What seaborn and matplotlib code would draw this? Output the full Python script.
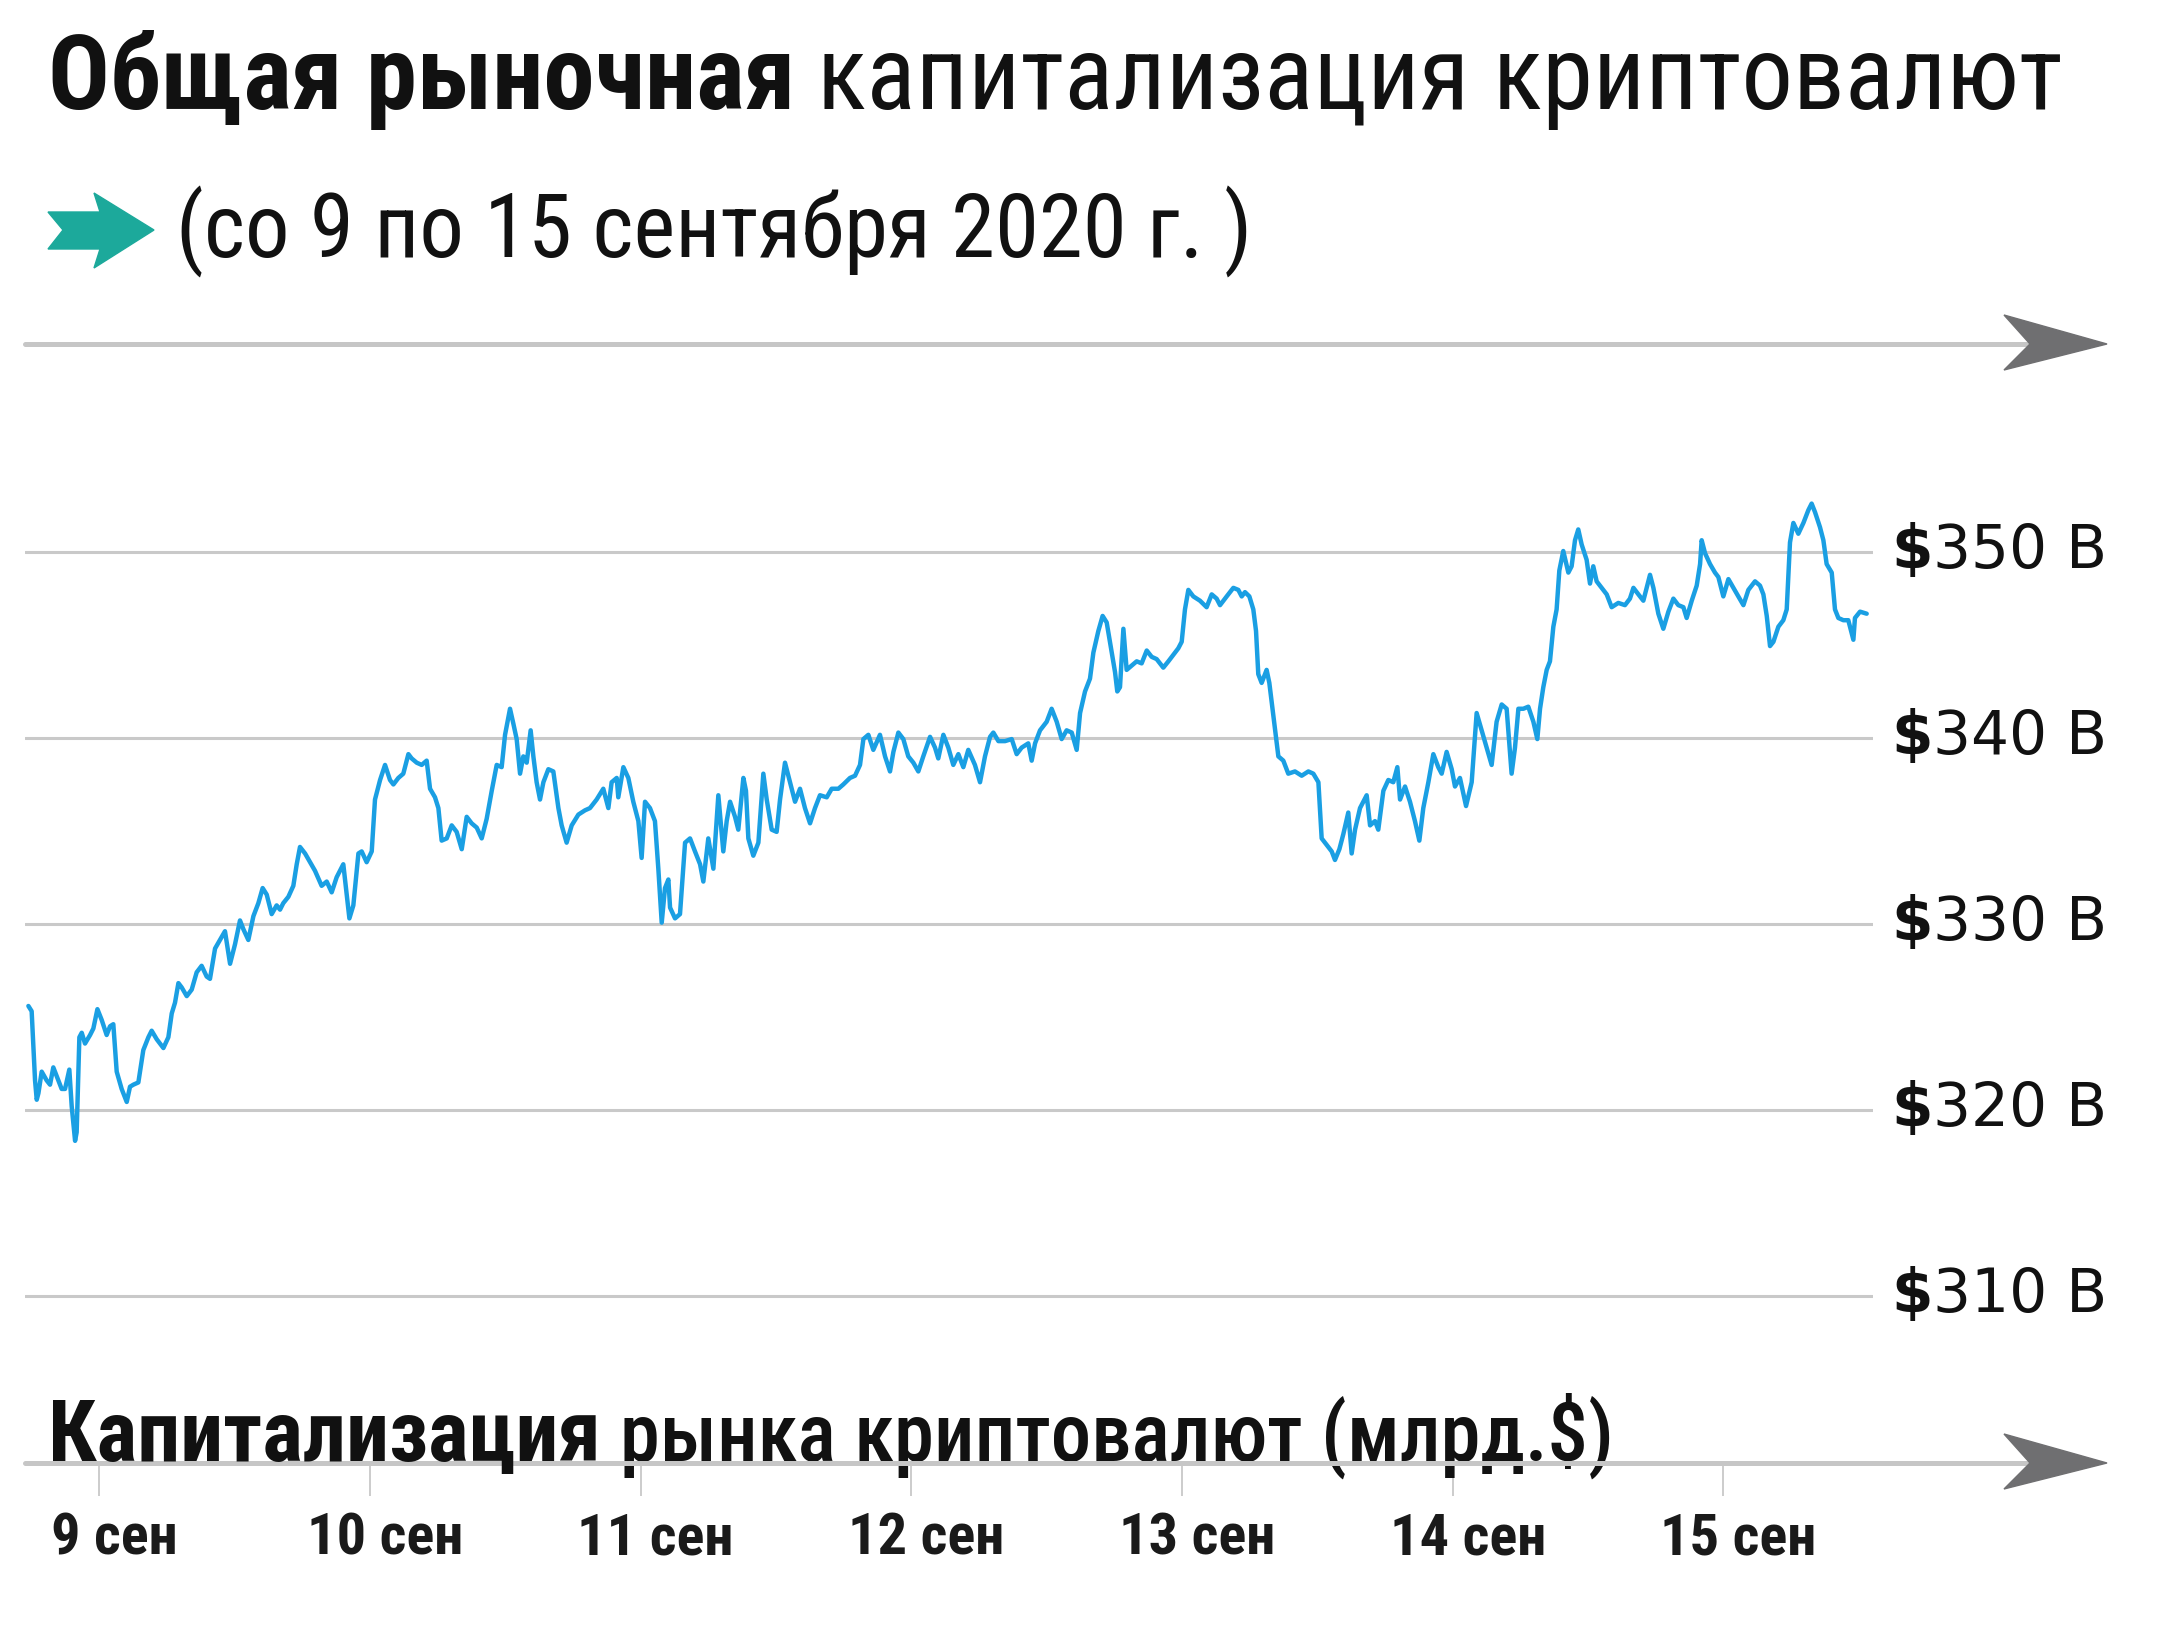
import matplotlib
matplotlib.use('Agg')
import matplotlib.pyplot as plt
import matplotlib.transforms as mtransforms
from matplotlib import font_manager
from matplotlib.lines import Line2D
from matplotlib.patches import Polygon
import pandas as pd
import seaborn as sns

# Часы от 9 сентября 2020 00:00 и капитализация рынка (млрд $)
hours = [
    -6.28, -5.99, -5.69, -5.54, -5.39, -5.10, -4.66, -4.36, -4.07, -3.77,
    -3.33, -3.03, -2.65, -2.44, -2.14, -2.00, -1.76, -1.55, -1.26, -0.81,
    -0.52, -0.16, 0.22, 0.66, 0.96, 1.25, 1.55, 1.99, 2.44, 2.73,
    3.03, 3.47, 3.91, 4.36, 4.65, 5.10, 5.69, 6.13, 6.43, 6.72,
    7.02, 7.31, 7.76, 8.20, 8.64, 9.08, 9.53, 9.82, 10.27, 10.71,
    11.15, 11.60, 12.04, 12.48, 12.78, 13.22, 13.67, 14.11, 14.49, 14.85,
    15.29, 15.73, 16.03, 16.32, 16.77, 17.21, 17.51, 17.80, 18.25, 18.69,
    19.13, 19.72, 20.17, 20.61, 21.05, 21.64,
    # 10 сен
    22.18, 22.53, 22.98, 23.27, 23.71, 24.16, 24.45, 24.90, 25.34, 25.78,
    26.08, 26.52, 26.96, 27.41, 27.70, 28.15, 28.59, 29.03, 29.33, 29.77,
    30.07, 30.36, 30.81, 31.25, 31.69, 32.14, 32.58, 33.02, 33.47, 33.91,
    34.35, 34.80, 35.24, 35.68, 35.98, 36.42, 36.72, 37.01, 37.31, 37.60,
    37.90, 38.25, 38.49, 38.78, 39.08, 39.38, 39.82, 40.26, 40.71, 41.00,
    41.44, 41.89, 42.48, 43.07, 43.51, 44.10, 44.69, 45.14, 45.43, 45.88,
    46.02, 46.47, 46.91, 47.35, 47.80, 48.09, 48.39, 48.83, 49.27, 49.57,
    49.87, 50.16, 50.46,
    # 11 сен
    50.61, 51.05, 51.49, 51.94, 52.38, 52.82, 53.27, 53.56, 54.00, 54.45,
    54.89, 55.33, 55.63, 55.93, 56.37, 56.66, 57.11, 57.34, 57.55, 57.99,
    58.44, 58.88, 59.18, 59.62, 60.06, 60.36, 60.80, 61.24, 61.69, 62.13,
    62.57, 63.02, 63.46, 63.90, 64.50, 64.94, 65.53, 65.97, 66.56, 67.01,
    67.45, 67.75, 68.19, 68.63, 69.22, 69.67, 70.11, 70.41, 70.85, 71.29,
    71.73, 72.18, 72.62, 73.06, 73.66, 74.10, 74.39, 74.84, 75.28, 75.72,
    76.17, 76.61, 77.05, 77.64, 78.09, 78.53, 78.98,
    # 12 сен
    79.27, 79.72, 80.31, 80.90, 81.34, 81.78, 82.37, 82.67, 82.97, 83.41,
    84.00, 84.44, 84.89, 85.33, 85.77, 86.22, 86.66, 86.96, 87.40, 87.84,
    88.14, 88.58, 88.96, 89.32, 89.67, 90.06, 90.26, 90.50, 90.80, 91.09,
    91.54, 91.98, 92.42, 92.87, 93.31, 93.75, 94.34, 94.79, 95.23, 95.67,
    95.97, 96.26, 96.56, 97.00, 97.59, 98.18, 98.63, 99.07, 99.37, 99.96,
    100.55, 100.99, 101.29, 101.58, 101.97, 102.32, 102.56, 102.76, 103.06, 103.50,
    103.74, 104.09, 104.54, 104.98, 105.42, 106.01, 106.61, 107.20,
    # 13 сен
    107.64, 108.09, 108.38, 108.82, 109.27, 109.56, 109.95, 110.30, 110.74, 111.04,
    111.34, 111.78, 112.37, 112.67, 113.11, 113.40, 113.85, 114.29, 114.73, 115.09,
    115.33, 115.77, 116.21, 116.65, 117.04, 117.39, 117.84, 118.28, 118.72, 119.02,
    119.46, 119.91, 120.20, 120.64, 121.18, 121.68, 122.12, 122.56, 123.01, 123.45,
    123.89, 124.34, 124.78, 125.22, 125.52, 125.82, 126.26, 126.70, 127.15, 127.50,
    127.74, 128.03, 128.33, 128.62, 128.92, 129.21, 129.45, 129.80, 130.25, 130.54,
    130.84, 131.13, 131.43, 131.87, 132.17, 132.46, 132.76, 133.20, 133.65, 134.09,
    134.68, 135.27, 135.71,
    # 14-15 сен
    136.02, 136.46, 136.90, 137.49, 137.79, 138.23, 138.67, 139.12, 139.56, 140.00,
    140.45, 140.74, 141.19, 141.63, 141.93, 142.07, 142.37, 142.81, 143.25, 143.55,
    143.99, 144.44, 144.88, 145.32, 145.77, 146.21, 146.80, 147.24, 147.54, 147.84,
    148.13, 148.43, 148.87, 149.31, 149.61, 149.90, 150.20, 150.64, 151.09, 151.53,
    151.82, 152.12, 152.56, 152.86, 153.15, 153.60, 153.89, 154.19, 154.63, 155.07,
    155.52, 155.66, 156.11, 156.70,
]
cap_bn = [
    325.59, 325.31, 321.59, 320.55, 320.90, 322.06, 321.59, 321.36, 322.29, 321.82,
    321.13, 321.13, 322.17, 320.20, 318.34, 318.80, 323.91, 324.15, 323.57, 324.03,
    324.38, 325.42, 324.84, 324.03, 324.50, 324.61, 322.06, 321.13, 320.43, 321.25,
    321.36, 321.48, 323.22, 323.91, 324.26, 323.80, 323.33, 323.91, 325.19, 325.77,
    326.82, 326.59, 326.12, 326.47, 327.40, 327.75, 327.17, 327.05, 328.68, 329.14,
    329.61, 327.86, 328.91, 330.19, 329.72, 329.14, 330.42, 331.12, 331.93, 331.58,
    330.53, 331.00, 330.77, 331.12, 331.46, 332.05, 333.21, 334.14, 333.79, 333.32,
    332.86, 332.05, 332.28, 331.70, 332.51, 333.21,
    330.30, 331.00, 333.79, 333.90, 333.32, 333.90, 336.69, 337.74, 338.55, 337.74,
    337.50, 337.85, 338.08, 339.13, 338.90, 338.67, 338.55, 338.78, 337.27, 336.81,
    336.23, 334.48, 334.60, 335.30, 334.95, 334.02, 335.76, 335.41, 335.18, 334.60,
    335.65, 337.16, 338.55, 338.43, 340.17, 341.57, 340.76, 339.94, 338.08, 339.01,
    338.67, 340.41, 339.01, 337.62, 336.69, 337.62, 338.32, 338.20, 336.23, 335.30,
    334.37, 335.30, 335.88, 336.11, 336.23, 336.69, 337.27, 336.23, 337.62, 337.85,
    336.81, 338.43, 337.85, 336.57, 335.53, 333.55, 336.57, 336.23, 335.53, 332.97,
    330.07, 331.93, 332.39,
    330.88, 330.30, 330.53, 334.37, 334.60, 333.90, 333.21, 332.28, 334.60, 332.97,
    336.92, 333.90, 335.53, 336.57, 335.76, 335.07, 337.85, 337.16, 334.60, 333.67,
    334.37, 338.08, 336.69, 335.07, 334.95, 336.69, 338.67, 337.62, 336.57, 337.27,
    336.23, 335.41, 336.23, 336.92, 336.81, 337.27, 337.27, 337.50, 337.85, 337.97,
    338.55, 339.94, 340.17, 339.36, 340.17, 339.01, 338.20, 339.25, 340.29, 339.94,
    339.01, 338.67, 338.20, 339.01, 340.06, 339.48, 338.90, 340.17, 339.48, 338.55,
    339.13, 338.43, 339.36, 338.55, 337.62, 339.01, 340.06,
    340.29, 339.83, 339.83, 339.94, 339.13, 339.48, 339.71, 338.78, 339.71, 340.41,
    340.87, 341.57, 340.87, 339.94, 340.41, 340.29, 339.36, 341.34, 342.50, 343.19,
    344.59, 345.75, 346.56, 346.21, 344.94, 343.54, 342.50, 342.73, 345.87, 343.66,
    343.89, 344.12, 344.01, 344.70, 344.36, 344.24, 343.78, 344.12, 344.47, 344.82,
    345.17, 346.91, 347.96, 347.61, 347.38, 347.03, 347.72, 347.49, 347.14, 347.61,
    348.07, 347.96, 347.61, 347.84, 347.61, 346.91, 345.75, 343.43, 342.96, 343.66,
    342.96, 341.22, 339.01, 338.78, 338.08, 338.20, 337.97, 338.20,
    338.08, 337.62, 334.60, 334.25, 333.90, 333.44, 334.02, 334.83, 335.99, 333.79,
    335.07, 336.23, 336.92, 335.30, 335.53, 335.07, 337.16, 337.74, 337.62, 338.43,
    336.69, 337.39, 336.57, 335.53, 334.48, 336.23, 337.62, 339.13, 338.43, 338.08,
    339.25, 338.32, 337.39, 337.85, 336.34, 337.62, 341.34, 340.41, 339.48, 338.55,
    340.87, 341.80, 341.57, 338.08, 339.48, 341.57, 341.57, 341.68, 340.87, 339.94,
    341.57, 342.73, 343.66, 344.12, 345.98, 346.91, 349.00, 350.05, 348.89, 349.23,
    350.63, 351.21, 350.40, 349.58, 348.30, 349.23, 348.42, 348.07, 347.72, 347.03,
    347.26, 347.14, 347.49,
    348.07, 347.72, 347.38, 348.77, 348.07, 346.68, 345.87, 346.79, 347.49, 347.14,
    347.03, 346.45, 347.38, 348.19, 349.35, 350.63, 349.93, 349.35, 348.89, 348.65,
    347.61, 348.54, 348.07, 347.61, 347.14, 347.96, 348.42, 348.19, 347.72, 346.56,
    344.94, 345.17, 345.98, 346.33, 346.91, 350.51, 351.56, 350.98, 351.56, 352.25,
    352.60, 352.14, 351.33, 350.63, 349.35, 348.89, 346.91, 346.45, 346.33, 346.33,
    345.28, 346.45, 346.79, 346.68,
]

tick_days = [9, 10, 11, 12, 13, 14, 15]
tick_labels = ['9 сен', '10 сен', '11 сен', '12 сен', '13 сен', '14 сен', '15 сен']
grid_values = [310, 320, 330, 340, 350]
grid_labels = ['310 B', '320 B', '330 B', '340 B', '350 B']

title_bold = 'Общая рыночная'
title_rest = 'капитализация криптовалют'
subtitle = '(со 9 по 15 сентября 2020 г. )'
axis_bold = 'Капитализация'
axis_rest = 'рынка криптовалют (млрд.$)'

start = pd.Timestamp('2020-09-09')
df = pd.DataFrame({'time': start + pd.to_timedelta(hours, unit='h'), 'cap': cap_bn})

sns.set_style('white')
names = {f.name for f in font_manager.fontManager.ttflist}
narrow = next((n for n in ['Roboto Condensed', 'Liberation Sans Narrow', 'Open Sans Condensed']
               if n in names), 'Roboto')
plt.rcParams['font.family'] = [narrow, 'DejaVu Sans']

W, H = 2160, 1647
fig = plt.figure(figsize=(W / 100, H / 100), dpi=100)


def fx(x):
    return x / W


def fy(y):
    return 1 - y / H


ax = fig.add_axes([fx(25), fy(1463), fx(1873) - fx(25), fy(344) - fy(1463)])
sns.lineplot(data=df, x='time', y='cap', ax=ax, color='#1a9fe3', linewidth=3.2, zorder=3)
ax.set_xlim(start + pd.Timedelta(hours=-6.58), start + pd.Timedelta(hours=157.26))
ax.set_ylim(301.02, 361.18)
for s in ax.spines.values():
    s.set_visible(False)
ax.set_xlabel('')
ax.set_ylabel('')

# горизонтальная сетка
ax.set_yticks(grid_values)
ax.yaxis.grid(True, color='#c9c9c9', linewidth=2.2)
ax.tick_params(axis='y', length=0, labelleft=False)

# подписи дат
ax.set_xticks([start + pd.Timedelta(days=d - 9) for d in tick_days])
ax.set_xticklabels(tick_labels, fontsize=42, fontweight='semibold', color='#1a1a1a')
ax.tick_params(axis='x', bottom=True, length=24, width=1.2, color='#c4c4c4', pad=11)
shift = mtransforms.ScaledTranslation(0.15, 0, fig.dpi_scale_trans)
for lbl in ax.get_xticklabels():
    lbl.set_transform(lbl.get_transform() + shift)

# подписи сетки справа: жирный $ + число
trans = mtransforms.blended_transform_factory(fig.transFigure, ax.transData)
for v, lab in zip(grid_values, grid_labels):
    num = ax.text(fx(2107), v, lab, transform=trans, ha='right', va='center',
                  family='DejaVu Sans', fontsize=43, color='#111111')
    ax.annotate('$', xy=(0, 0.5), xycoords=num, ha='right', va='center',
                family='DejaVu Sans', fontsize=43, weight='bold', color='#111111')


# серые стрелки сверху и снизу
def arrow_line(y):
    fig.add_artist(Line2D([fx(25), fx(2035)], [fy(y), fy(y)], transform=fig.transFigure,
                          color='#c6c6c6', linewidth=3.6, zorder=1))
    head = [(2107, y), (2004, y - 29), (2030, y), (2004, y + 26)]
    fig.add_artist(Polygon([(fx(a), fy(b)) for a, b in head], closed=True,
                           transform=fig.transFigure, color='#6f6f71', zorder=2))


arrow_line(344)
arrow_line(1463)

# заголовок
t1 = fig.text(fx(48), fy(109), title_bold, fontsize=74, weight='bold', va='baseline', color='#111111')
ax.annotate(title_rest, xy=(1, fy(109)), xycoords=(t1, 'figure fraction'), xytext=(16, 0),
            textcoords='offset points', va='baseline', fontsize=74, color='#111111')

# зелёная стрелка и подзаголовок
icon = [(154, 230), (94, 193), (100, 212), (48, 212), (63, 230), (48, 249), (100, 249), (94, 268)]
fig.add_artist(Polygon([(fx(a), fy(b)) for a, b in icon], closed=True,
                       transform=fig.transFigure, color='#1ca99b'))
fig.text(fx(176), fy(258), subtitle, fontsize=64, va='baseline', color='#111111')

# подпись оси
a1 = fig.text(fx(48), fy(1461), axis_bold, fontsize=62, weight='bold', va='baseline',
              color='#111111', zorder=5)
ax.annotate(axis_rest, xy=(1, fy(1461)), xycoords=(a1, 'figure fraction'), xytext=(14, 0),
            textcoords='offset points', va='baseline', fontsize=58, weight='medium',
            color='#111111', zorder=5)

fig.savefig('out.png', dpi=100)
